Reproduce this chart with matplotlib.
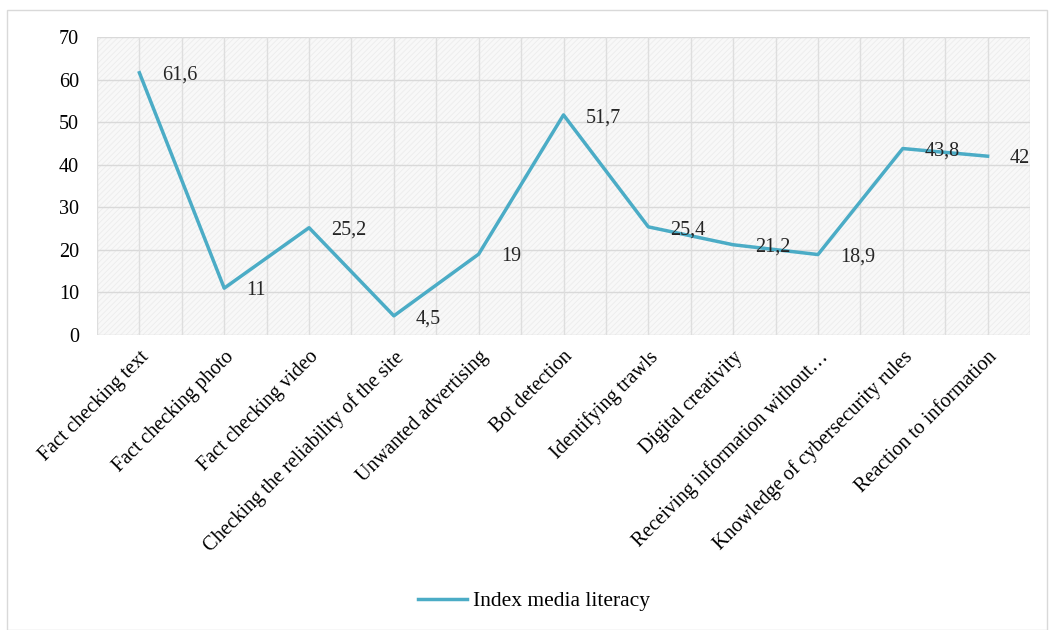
import matplotlib
matplotlib.use("Agg")
import matplotlib.pyplot as plt
from matplotlib.patches import Rectangle

plt.rcParams['font.family'] = ['Liberation Serif', 'DejaVu Serif']
plt.rcParams['hatch.linewidth'] = 0.6

categories = ['Fact checking text', 'Fact checking photo', 'Fact checking video',
              'Checking the reliability of the site', 'Unwanted advertising',
              'Bot detection', 'Identifying trawls', 'Digital creativity',
              'Receiving information without\u2026', 'Knowledge of cybersecurity rules',
              'Reaction to information']
values = [61.6, 11, 25.2, 4.5, 19, 51.7, 25.4, 21.2, 18.9, 43.8, 42]
value_labels = ['61,6', '11', '25,2', '4,5', '19', '51,7', '25,4', '21,2', '18,9', '43,8', '42']

line_color = '#4bacc6'

fig = plt.figure(figsize=(10.5, 6.3), dpi=100)
ax = fig.add_axes([97 / 1050, 1 - 335 / 630, 933 / 1050, 298 / 630])

# light patterned plot area like the original
ax.set_facecolor('#f8f8f8')
ax.add_patch(Rectangle((0, 0), 1, 1, transform=ax.transAxes, facecolor='none',
                       edgecolor='#ececec', hatch='//////', linewidth=0, zorder=0))

x = list(range(len(categories)))
ax.plot(x, values, color=line_color, linewidth=2.5, label='Index media literacy', zorder=3)

for xi, v, lab in zip(x, values, value_labels):
    ax.annotate(lab, (xi, v), xytext=(16, -2), textcoords='offset points',
                ha='left', va='center', fontsize=14.5, color='#262626', zorder=4)

ax.set_xlim(-0.5, len(categories) - 0.5)
ax.set_ylim(0, 70)
ax.set_yticks(range(0, 71, 10))
ax.set_xticks(x)
ax.set_xticklabels(categories, rotation=45, ha='right', rotation_mode='anchor', fontsize=14.5)
ax.tick_params(axis='y', labelsize=14.5, length=0, pad=13)
ax.tick_params(axis='x', length=0, pad=9)

# gridlines: horizontal at ticks, vertical at every half category
for y in range(0, 71, 10):
    ax.axhline(y, color='#d9d9d9', linewidth=1, zorder=1)
for b in range(2 * len(categories) + 1):
    ax.axvline(b / 2 - 0.5, color='#dedede', linewidth=1, zorder=1)

for s in ax.spines.values():
    s.set_visible(False)

ax.legend(loc='center', bbox_to_anchor=(534 / 1050, 1 - 601 / 630),
          bbox_transform=fig.transFigure, frameon=False, fontsize=15.5,
          handlelength=2.3, handletextpad=0.3)

fig.patches.append(Rectangle((7 / 1050, 0), 1040 / 1050, 1 - 10 / 630,
                             transform=fig.transFigure, facecolor='none',
                             edgecolor='#d9d9d9', linewidth=1))

fig.savefig('out.png', dpi=100)
